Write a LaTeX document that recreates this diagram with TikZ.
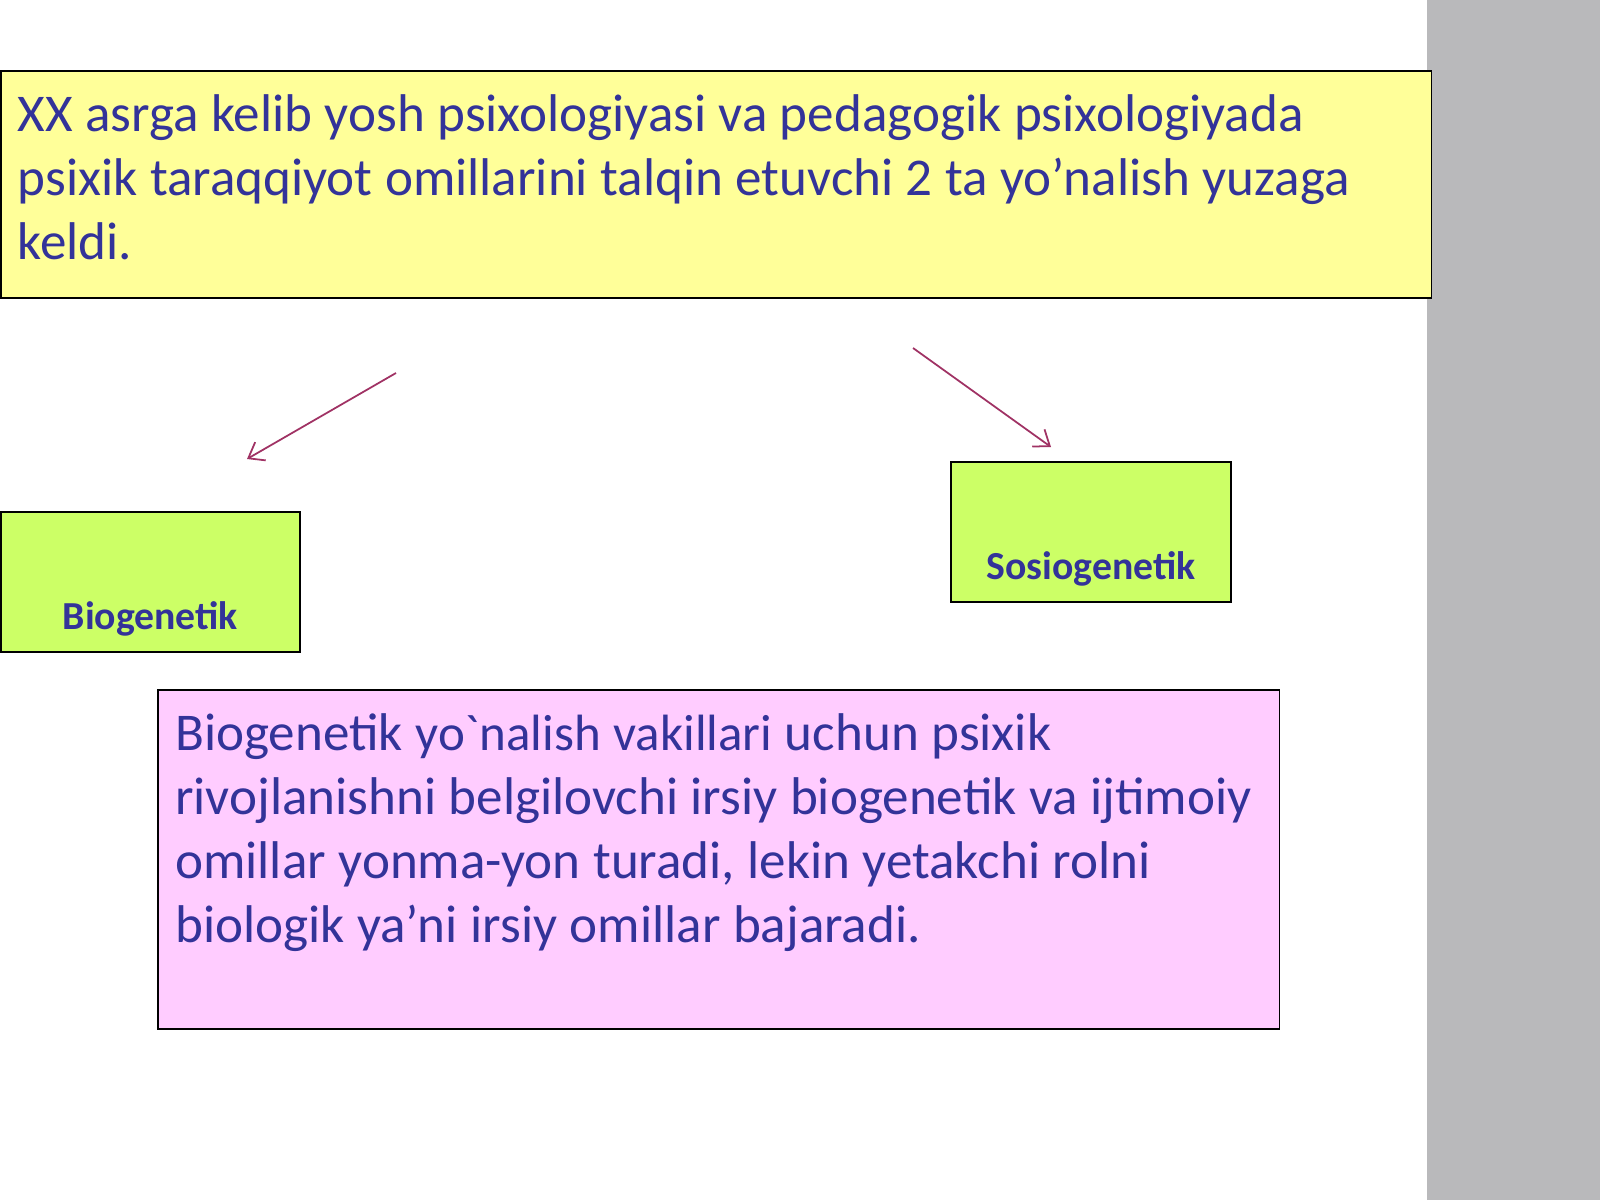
\documentclass[tikz,border=0pt]{standalone}
\usepackage{fontspec}
\setmainfont{Carlito}
\newfontfamily\bodyfont{Carlito}
\usetikzlibrary{arrows.meta}
\definecolor{txtblue}{RGB}{51,51,153}
\definecolor{topyellow}{RGB}{255,255,153}
\definecolor{boxgreen}{RGB}{204,255,102}
\definecolor{boxpink}{RGB}{255,204,255}
\definecolor{panelgray}{RGB}{185,185,187}
\definecolor{arrowred}{RGB}{160,50,100}
\tikzset{
  framebox/.style={draw=black, line width=0.45pt, anchor=north west, inner sep=0pt},
  greenbox/.style={framebox, fill=boxgreen, minimum width=2.99cm, minimum height=1.40cm,
    text=txtblue, font=\bfseries\fontsize{11.3}{13}\selectfont,
    text height=27.3pt, text depth=0pt},
  bodytext/.style={anchor=base west, inner sep=0pt, align=left, text=txtblue,
    font=\bodyfont\fontsize{15.1}{18.2}\selectfont},
  pointer/.style={draw=arrowred, line width=0.5pt, -{Straight Barb[length=4pt,width=6pt]}}
}
\begin{document}
\begin{tikzpicture}[x=0.01cm,y=-0.01cm]
\useasboundingbox[fill=white] (0,0) rectangle (1600,1200);
\fill[panelgray] (1427,0) rectangle (1600,1200);
% top box
\node[framebox, fill=topyellow, minimum width=14.30cm, minimum height=2.27cm] (topbox) at (0,70) {};
\node[bodytext, text width=14cm] (toptext) at (17,131.6)
 {\hyphenpenalty=10000 \spaceskip=3.55pt\xspaceskip=3.55pt XX asrga kelib yosh psixologiyasi va pedagogik psixologiyada\\
  psixik taraqqiyot omillarini talqin etuvchi 2 ta yo’nalish yuzaga\\
  keldi.};
% arrows
\coordinate (a1s) at (396,373);
\coordinate (a1e) at (247,459);
\coordinate (a2s) at (913,348);
\coordinate (a2e) at (1051,447);
\draw[pointer] (a1s) -- (a1e);
\draw[pointer] (a2s) -- (a2e);
% green boxes
\node[greenbox] (bio) at (0,511) {Biogenetik};
\node[greenbox, minimum width=2.80cm] (sosio) at (950,461) {Sosiogenetik};
% pink box
\node[framebox, fill=boxpink, minimum width=11.21cm, minimum height=3.39cm] (pinkbox) at (157,689) {};
\node[bodytext, text width=12.5cm] (pinktext) at (174.5,750)
 {\hyphenpenalty=10000 \spaceskip=3.55pt\xspaceskip=3.55pt Biogenetik {\fontsize{14.5}{18.2}\selectfont yo`nalish vakillari} uchun psixik\\
  rivojlanishni belgilovchi irsiy biogenetik va ijtimoiy\\
  omillar yonma-yon turadi, lekin yetakchi rolni\\
  biologik ya’ni irsiy omillar bajaradi.};
\end{tikzpicture}
\end{document}
